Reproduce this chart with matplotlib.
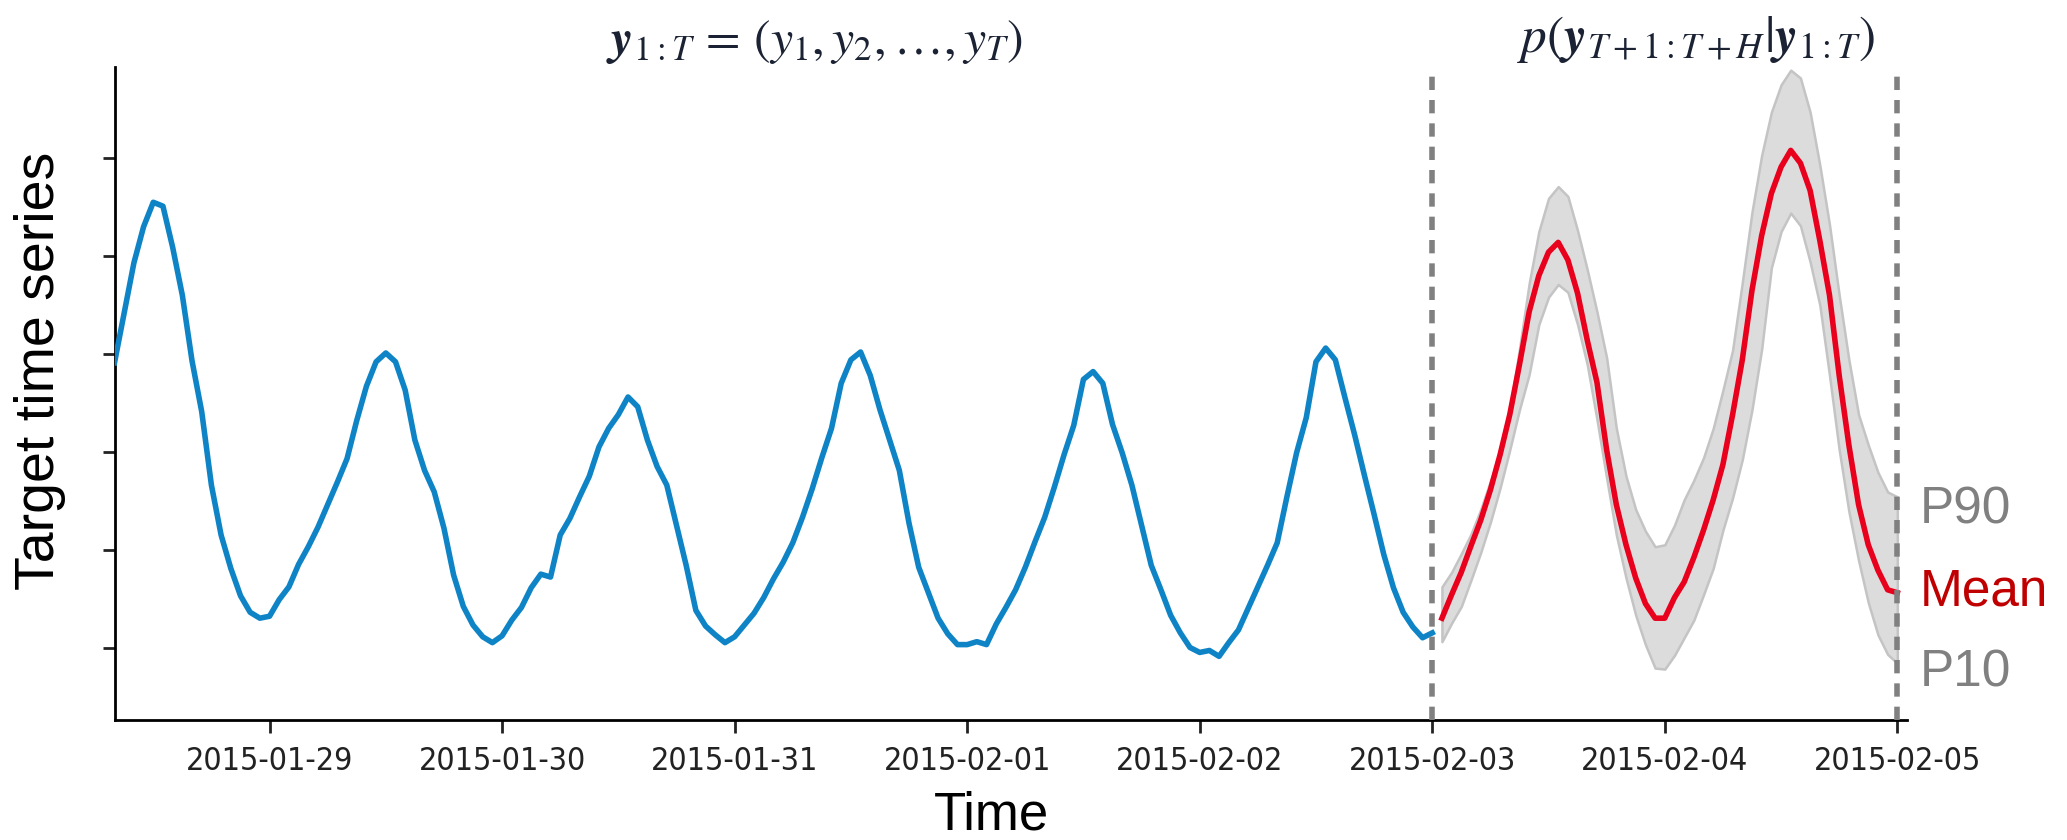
import matplotlib
matplotlib.use("Agg")
import matplotlib.pyplot as plt
import matplotlib.dates as mdates
import pandas as pd

# historical series, hourly from 2015-01-28 08:00 to 2015-02-03 00:00
history_start = "2015-01-28 08:00"
history = [
    2.91, 3.42, 3.93, 4.30, 4.55, 4.51, 4.09, 3.60, 2.93, 2.41, 1.66, 1.15, 0.81, 0.53, 0.36, 0.30,
    0.32, 0.49, 0.62, 0.85, 1.03, 1.23, 1.46, 1.69, 1.93, 2.32, 2.67, 2.92, 3.01, 2.92, 2.63, 2.12,
    1.81, 1.59, 1.22, 0.74, 0.42, 0.23, 0.11, 0.05,
    0.12, 0.28, 0.41, 0.61, 0.75, 0.72, 1.15, 1.32, 1.54, 1.75, 2.05, 2.24, 2.38, 2.56, 2.46, 2.12,
    1.85, 1.66, 1.25, 0.84, 0.38, 0.22, 0.13, 0.05,
    0.11, 0.23, 0.35, 0.51, 0.70, 0.87, 1.07, 1.33, 1.62, 1.94, 2.24, 2.70, 2.94, 3.02, 2.78, 2.43,
    2.12, 1.81, 1.27, 0.82, 0.56, 0.30, 0.14, 0.03,
    0.03, 0.06, 0.03, 0.24, 0.41, 0.59, 0.82, 1.08, 1.33, 1.64, 1.97, 2.27, 2.74, 2.82, 2.70, 2.28,
    1.99, 1.66, 1.25, 0.84, 0.59, 0.33, 0.15, 0.00,
    -0.05, -0.03, -0.09, 0.05, 0.18, 0.40, 0.62, 0.84, 1.07, 1.54, 1.99, 2.35, 2.92, 3.06, 2.94, 2.55,
    2.17, 1.76, 1.36, 0.95, 0.61, 0.36, 0.21, 0.10,
    0.15,
]

# forecast, hourly from 2015-02-03 01:00 to 2015-02-05 00:00
forecast_start = "2015-02-03 01:00"
mean = [
    0.30, 0.54, 0.77, 1.04, 1.30, 1.61, 1.97, 2.38, 2.89, 3.43, 3.80, 4.04, 4.14, 3.96, 3.62, 3.14,
    2.71, 2.02, 1.46, 1.05, 0.71, 0.45, 0.30, 0.30,
    0.51, 0.67, 0.92, 1.20, 1.51, 1.87, 2.38, 2.94, 3.65, 4.21, 4.64, 4.91, 5.08, 4.95, 4.67, 4.16,
    3.60, 2.78, 2.07, 1.46, 1.05, 0.79, 0.59, 0.56,
]
p90 = [
    0.62, 0.77, 0.96, 1.16, 1.41, 1.70, 2.00, 2.43, 3.05, 3.72, 4.25, 4.59, 4.71, 4.61, 4.26, 3.86,
    3.43, 2.96, 2.24, 1.75, 1.41, 1.19, 1.03, 1.05,
    1.25, 1.51, 1.71, 1.94, 2.24, 2.63, 3.04, 3.73, 4.45, 5.03, 5.47, 5.75, 5.90, 5.82, 5.47, 4.93,
    4.32, 3.60, 2.94, 2.38, 2.07, 1.79, 1.59, 1.54,
]
p10 = [
    0.06, 0.25, 0.42, 0.69, 0.97, 1.28, 1.63, 2.02, 2.43, 2.79, 3.30, 3.58, 3.71, 3.63, 3.30, 2.89,
    2.33, 1.73, 1.15, 0.71, 0.33, 0.03, -0.21, -0.22,
    -0.08, 0.10, 0.28, 0.54, 0.81, 1.20, 1.53, 1.92, 2.43, 3.05, 3.88, 4.25, 4.44, 4.31, 3.94, 3.50,
    2.78, 2.02, 1.39, 0.89, 0.46, 0.13, -0.07, -0.16,
]

day_ticks = pd.date_range("2015-01-29", "2015-02-05", freq="D")
y_ticks = [0, 1, 2, 3, 4, 5]
forecast_edges = ["2015-02-03", "2015-02-05"]

t_hist = pd.date_range(history_start, periods=len(history), freq="h")
t_fc = pd.date_range(forecast_start, periods=len(mean), freq="h")

plt.rcParams["mathtext.fontset"] = "stix"

fig = plt.figure(figsize=(20.67, 8.4), dpi=100)
ax = fig.add_axes([0.0554, 0.1429, 0.8672, 0.7771])

ax.fill_between(t_fc, p10, p90, color="#dcdcdc", edgecolor="#c4c4c4", linewidth=1.8, zorder=1)
ax.plot(t_hist, history, color="#0e84c6", linewidth=4, zorder=3)
ax.plot(t_fc, mean, color="#e8001c", linewidth=4, zorder=3)

for d in forecast_edges:
    ax.axvline(pd.Timestamp(d), color="#808080", linewidth=4, dashes=(2.4, 1.8), zorder=4)

ax.set_xlim(pd.Timestamp(history_start), pd.Timestamp("2015-02-05 01:00"))
ax.set_ylim(-0.74, 5.93)

ax.spines["top"].set_visible(False)
ax.spines["right"].set_visible(False)
ax.spines["left"].set_linewidth(2)
ax.spines["bottom"].set_linewidth(2)

ax.set_yticks(y_ticks)
ax.set_yticklabels([])
ax.set_xticks(day_ticks)
ax.xaxis.set_major_formatter(mdates.DateFormatter("%Y-%m-%d"))
ax.tick_params(axis="both", length=9, width=2, colors="#222222")
ax.tick_params(axis="x", pad=10)
for lbl in ax.get_xticklabels():
    lbl.set_fontsize(23)
    lbl.set_fontstretch("condensed")

ax.set_xlabel("Time", fontsize=38, family="Liberation Sans")
ax.xaxis.set_label_coords(0.4895, -0.108)
ax.set_ylabel("Target time series", fontsize=40, family="Liberation Sans")
ax.yaxis.set_label_coords(-0.027, 0.535)

fig.text(0.394, 0.95, r"$\boldsymbol{y}_{1{:}T}\,=\,(y_1, y_2, \ldots, y_T)$",
         fontsize=36, color="#1a2233", ha="center", va="center")
fig.text(0.8206, 0.953, r"$p(\boldsymbol{y}_{T+1{:}T+H}|\boldsymbol{y}_{1{:}T})$",
         fontsize=37, color="#1a2233", ha="center", va="center")

fig.text(0.929, 1 - 510 / 840, "P90", fontsize=37, color="#808080", family="Liberation Sans", va="center")
fig.text(0.929, 1 - 592 / 840, "Mean", fontsize=37, color="#c00000", family="Liberation Sans", va="center")
fig.text(0.929, 1 - 673 / 840, "P10", fontsize=37, color="#808080", family="Liberation Sans", va="center")

fig.savefig("out.png", dpi=100)
